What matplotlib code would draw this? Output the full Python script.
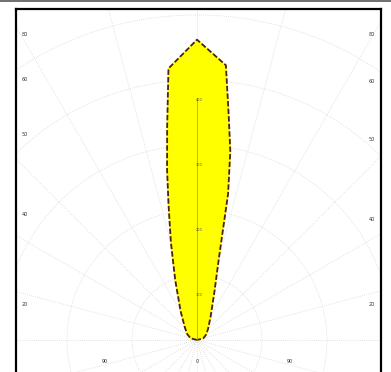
import numpy as np
import matplotlib
matplotlib.use("Agg")
import matplotlib.pyplot as plt
from matplotlib.lines import Line2D

# beam data: angle from vertical (deg) and intensity (grid units)
angles = [-90, -75, -60, -45, -30, -20, -15, -12, -10, -8, -6, 0, 6, 8, 10, 12, 15, 20, 30, 45, 60, 75, 90]
intensity = [0, 0.1, 0.17, 0.26, 0.5, 0.98, 1.55, 2.1, 2.65, 3.3, 4.2, 4.62, 4.25, 3.5, 2.95, 2.3, 1.3, 0.78, 0.42, 0.24, 0.16, 0.1, 0]

left_labels = ["80", "60", "50", "40", "20"]
right_labels = ["80", "60", "50", "40", "20"]
bottom_labels = ["90", "0", "90"]
axis_labels = ["400", "300", "200", "100"]

# layout (pixel positions of labels, center at x=197, y=340, 65 px per unit)
left_y = [35, 80, 135, 215, 305]
right_y = [35, 82, 140, 220, 305]
bottom_x = [105, 197, 290]
axis_y = [100, 165, 230, 295]

def px(x, y):
    return (x - 197) / 65.0, (340 - y) / 65.0

fig = plt.figure(figsize=(3.91, 3.72), dpi=100)
ax = fig.add_axes([16/391, -7/372, 365/391, 370/372])
ax.set_xlim(-2.785, 2.831)
ax.set_ylim(-0.6, 5.092)
ax.set_xticks([])
ax.set_yticks([])
for s in ["left", "right", "top"]:
    ax.spines[s].set_linewidth(1.6)
ax.spines["bottom"].set_visible(False)

# polar grid
t = np.linspace(0, 2*np.pi, 400)
for r in range(1, 7):
    ax.plot(r*np.cos(t), r*np.sin(t), color="#d9d9d9", lw=0.6, ls=(0, (1, 1.5)), zorder=1)
for a in range(0, 360, 15):
    ar = np.radians(a)
    ax.plot([0, 7*np.sin(ar)], [0, 7*np.cos(ar)], color="#d9d9d9", lw=0.6, ls=(0, (1, 1.5)), zorder=1)

# beam
th = np.radians(angles)
r = np.array(intensity)
bx = r*np.sin(th)
by = r*np.cos(th)
ax.fill(bx, by, color="#ffff00", zorder=2)
ax.plot(bx, by, color="#4a2020", lw=1.3, ls=(0, (3, 1.2)), zorder=3)
ax.plot([0, 0], [0, 3.7], color="#9a9a30", lw=0.5, zorder=3)

for lab, y in zip(left_labels, left_y):
    x0, y0 = px(25, y)
    ax.text(x0, y0, lab, fontsize=3.5, color="#333333", ha="center", va="center")
for lab, y in zip(right_labels, right_y):
    x0, y0 = px(372, y)
    ax.text(x0, y0, lab, fontsize=3.5, color="#333333", ha="center", va="center")
for lab, x in zip(bottom_labels, bottom_x):
    x0, y0 = px(x, 362)
    ax.text(x0, y0, lab, fontsize=3.5, color="#333333", ha="center", va="center")
for lab, y in zip(axis_labels, axis_y):
    x0, y0 = px(199, y)
    ax.text(x0, y0, lab, fontsize=2.5, color="#444444", ha="center", va="center", zorder=4)

fig.add_artist(Line2D([0, 1], [0.998, 0.998], color="#555555", lw=1.2))
fig.savefig("out.png", dpi=100)
